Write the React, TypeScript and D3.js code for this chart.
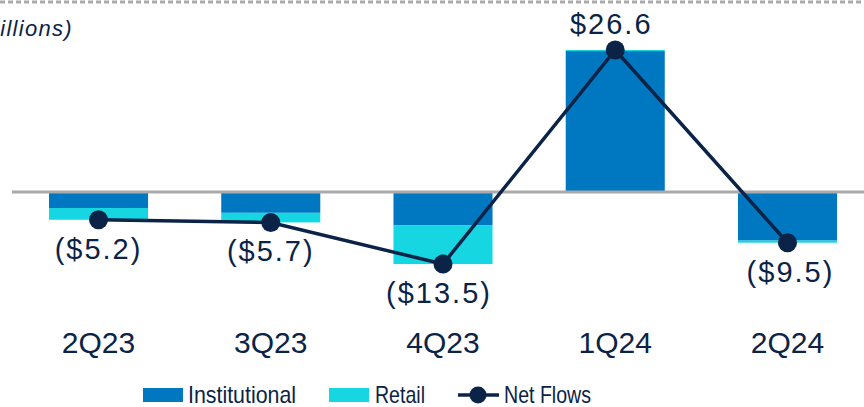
import React from "react";
import * as d3 from "d3";

const categories = ["2Q23", "3Q23", "4Q23", "1Q24", "2Q24"];
const institutional = [-3.0, -3.9, -6.2, 26.4, -9.1];
const retail = [-2.2, -1.8, -7.3, 0.2, -0.4];
const netFlows = [-5.2, -5.7, -13.5, 26.6, -9.5];
const netLabels = ["($5.2)", "($5.7)", "($13.5)", "$26.6", "($9.5)"];
const legendItems = ["Institutional", "Retail", "Net Flows"];
const unitLabel = "($ in billions)";

const W = 864;
const H = 407;
const C_INST = "#0078c1";
const C_RET = "#16d7e1";
const NAVY = "#0b2346";
const GRID = "#aaaaaa";

export default function App() {
  const x = d3.scaleBand<string>().domain(categories).range([12.4, 873.6]).paddingInner(0.425).paddingOuter(0.2125);
  const y = d3.scaleLinear().domain([0, 26.6]).range([192, 50]);
  const bw = x.bandwidth();

  const line = d3
    .line<number>()
    .x((_, i) => (x(categories[i]) as number) + bw / 2)
    .y((d) => y(d));

  const bars: React.ReactNode[] = [];
  categories.forEach((c, i) => {
    const x0 = x(c) as number;
    const inst = institutional[i];
    const ret = retail[i];
    const y0 = y(0);
    const yi = y(inst);
    bars.push(
      <rect key={"i" + c} x={x0} width={bw} y={Math.min(y0, yi)} height={Math.abs(yi - y0)} fill={C_INST} />
    );
    const yr = y(inst + ret);
    bars.push(
      <rect key={"r" + c} x={x0} width={bw} y={Math.min(yi, yr)} height={Math.abs(yr - yi)} fill={C_RET} />
    );
  });

  return (
    <svg width={W} height={H} style={{ position: "absolute", left: 0, top: 0 }} fontFamily="'Liberation Sans', Arial, sans-serif">
      <line x1={0} x2={W} y1={2} y2={2} stroke={GRID} strokeWidth={3} strokeDasharray="5 3" />
      <text x={73} y={36} textAnchor="end" fontSize={22} fontStyle="italic" letterSpacing={1.3} fill={NAVY}>
        {unitLabel}
      </text>
      {bars}
      <line x1={12} x2={W} y1={y(0)} y2={y(0)} stroke={GRID} strokeWidth={3} />
      <path d={line(netFlows) || ""} fill="none" stroke={NAVY} strokeWidth={3.5} />
      {netFlows.map((v, i) => {
        const cx = (x(categories[i]) as number) + bw / 2;
        const cy = y(v);
        return (
          <g key={"p" + i}>
            <circle cx={cx} cy={cy} r={9.5} fill={NAVY} />
            <text
              x={cx + (i === 2 ? -4 : i === 3 ? -4 : i === 4 ? 3 : 0)}
              y={v >= 0 ? cy - 16 : cy + 39}
              textAnchor="middle"
              fontSize={29}
              letterSpacing={2}
              fill={NAVY}
            >
              {netLabels[i]}
            </text>
          </g>
        );
      })}
      {categories.map((c) => (
        <text key={"c" + c} x={(x(c) as number) + bw / 2} y={353} textAnchor="middle" fontSize={30} fill={NAVY}>
          {c}
        </text>
      ))}
      <g fontSize={24} fill={NAVY}>
        <rect x={143} y={388} width={40} height={14} fill={C_INST} />
        <text x={188} y={403} textLength={108} lengthAdjust="spacingAndGlyphs">{legendItems[0]}</text>
        <rect x={329} y={388} width={40} height={14} fill={C_RET} />
        <text x={375} y={403} textLength={50} lengthAdjust="spacingAndGlyphs">{legendItems[1]}</text>
        <line x1={458} x2={499} y1={395} y2={395} stroke={NAVY} strokeWidth={3.5} />
        <circle cx={478} cy={395} r={8.5} fill={NAVY} />
        <text x={504} y={403} textLength={87} lengthAdjust="spacingAndGlyphs">{legendItems[2]}</text>
      </g>
    </svg>
  );
}
